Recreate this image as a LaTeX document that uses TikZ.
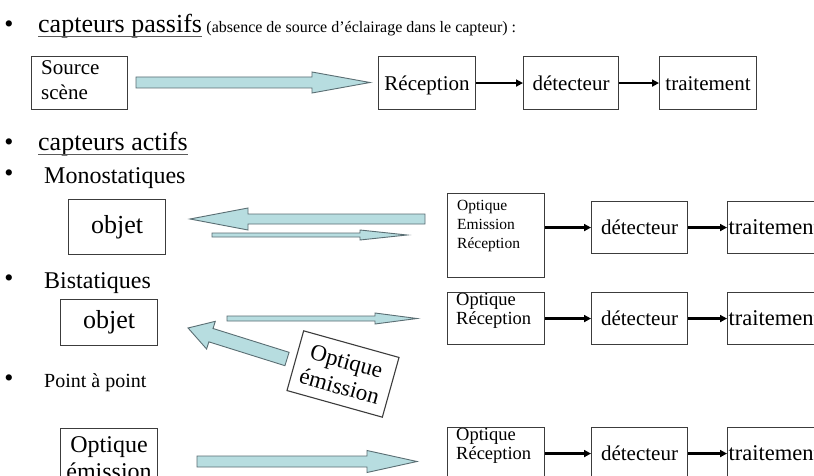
\documentclass[tikz,border=0pt]{standalone}
\usepackage{fontspec}
\setmainfont{Liberation Serif}
\usetikzlibrary{arrows.meta}
\definecolor{boxline}{RGB}{60,60,60}
\definecolor{beamfill}{RGB}{183,221,224}
\definecolor{beamline}{RGB}{90,110,115}
\definecolor{ulgray}{RGB}{90,90,90}

% wide light-blue arrow: tail point, direction angle, length,
% shaft half-width, head half-width, head length
\newcommand\beam[6]{%
  \draw[beam,shift={#1},rotate=#2]
    (0,-#4) -- ({#3-#6},-#4) -- ({#3-#6},-#5) -- (#3,0)
    -- ({#3-#6},#5) -- ({#3-#6},#4) -- (0,#4) -- cycle;}

\tikzset{
  box/.style={draw=boxline, line width=1.1pt, inner sep=0pt, anchor=north west},
  word/.style={font=\fontsize{21}{25}\selectfont, text height=17pt, text depth=3pt},
  beam/.style={draw=beamline, fill=beamfill, line width=0.9pt, line join=miter},
  blk/.style={line width=2.2pt, -{Triangle[length=7pt,width=7pt]}},
  ul/.style={draw=ulgray, line width=1pt},
  bul/.style={inner sep=0pt, font=\fontsize{26}{28}\selectfont},
  fa/.style={font=\fontsize{26}{30}\selectfont},
  fb/.style={font=\fontsize{24}{28}\selectfont},
  fc/.style={font=\fontsize{21}{25}\selectfont},
  fd/.style={font=\fontsize{18.5}{19}\selectfont},
  fe/.style={font=\fontsize{15.5}{19}\selectfont},
  ff/.style={font=\fontsize{16}{19}\selectfont},
  fg/.style={font=\fontsize{20}{24}\selectfont},
  trlabel/.style={anchor=west, font=\fontsize{22.5}{26}\selectfont, inner sep=0pt, xshift=1.5pt},
  toplabel/.style={anchor=north west, align=left, inner sep=0pt},
}

\begin{document}
\begin{tikzpicture}[x=1pt,y=-1pt]
\useasboundingbox (0,0) rectangle (814,476);
\fill[white] (0,0) rectangle (814,476);
\clip (0,0) rectangle (814,476);

% ---------- passive sensors ----------
\node[bul] (b1) at (9,27) {•};
\node[fa, anchor=base west, inner sep=0pt] (t1) at (38,33) {capteurs passifs};
\draw[ul] ([yshift=-4pt]t1.base west) -- ([yshift=-4pt]t1.base east);
\node[ff, anchor=base west, inner sep=0pt] (t1b) at ([xshift=4pt]t1.base east)
  {(absence de source d’éclairage dans le capteur) :};

\node[box, minimum width=96pt, minimum height=53pt,
      label={[toplabel, fc, xshift=10pt, yshift=-4pt]north west:{Source\\scène}}] (src) at (31,56) {};
\node[box, word, minimum width=97pt, minimum height=53pt] (rec) at (378,56) {Réception};
\node[box, word, minimum width=95pt, minimum height=53pt] (det) at (523,56) {détecteur};
\node[box, word, minimum width=97pt, minimum height=53pt] (trt) at (659,56) {traitement};
\beam{(136,82.5)}{0}{234}{5.5}{10.5}{58}
\draw[blk] (rec.east) -- (det.west);
\draw[blk] (det.east) -- (trt.west);

% ---------- active sensors ----------
\node[bul] (b2) at (9,145) {•};
\node[fa, anchor=base west, inner sep=0pt] (t2) at (38,151) {capteurs actifs};
\draw[ul] ([yshift=-4pt]t2.base west) -- ([yshift=-4pt]t2.base east);

% monostatic
\node[bul] (b3) at (9,176) {•};
\node[fb, anchor=base west, inner sep=0pt] (t3) at (44,183) {Monostatiques};
\node[box, fa, minimum width=97pt, minimum height=55pt] (obj1) at (68,199) {objet};
\node[box, minimum width=97pt, minimum height=84pt,
      label={[toplabel, fe, xshift=10pt, yshift=-7pt]north west:{Optique\\Emission\\Réception}}]
      (oer) at (447,193) {};
\node[box, word, minimum width=96pt, minimum height=52pt] (det2) at (591,201) {détecteur};
\node[box, minimum width=100pt, minimum height=52pt,
      label={[trlabel]west:traitement}] (trt2) at (727,201) {};
\beam{(425,219)}{180}{235}{5}{11}{58}
\beam{(212,235)}{0}{195}{2}{5}{47}
\draw[blk] (oer.east |- det2.west) -- (det2.west);
\draw[blk] (det2.east) -- (trt2.west);

% bistatic
\node[bul] (b4) at (9,281) {•};
\node[fb, anchor=base west, inner sep=0pt] (t4) at (44,288) {Bistatiques};
\node[box, fa, minimum width=97pt, minimum height=46pt] (obj2) at (60,299) {objet};
\node[box, minimum width=97pt, minimum height=52pt,
      label={[toplabel, fd, xshift=9pt, yshift=-1pt]north west:{Optique\\Réception}}]
      (or3) at (447,292) {};
\node[box, word, minimum width=96pt, minimum height=52pt] (det3) at (591,292) {détecteur};
\node[box, minimum width=100pt, minimum height=52pt,
      label={[trlabel]west:traitement}] (trt3) at (727,292) {};
\beam{(227,318.5)}{0}{190}{2.5}{5.5}{42}
\beam{(287,359)}{162.6}{103.7}{7}{14.5}{24}
\node[box, anchor=center, rotate=-15.6, minimum width=99pt, minimum height=62pt,
      align=center, font=\fontsize{23}{26}\selectfont] (oe) at (343,374) {Optique\\émission};
\draw[blk] (or3.east |- det3.west) -- (det3.west);
\draw[blk] (det3.east) -- (trt3.west);

% point to point
\node[bul] (b5) at (9,381) {•};
\node[fg, anchor=base west, inner sep=0pt] (t5) at (44,387) {Point à point};
\node[box, minimum width=97pt, minimum height=60pt, align=center,
      font=\fontsize{24}{27}\selectfont] (oe2) at (60,428) {Optique\\émission};
\node[box, minimum width=97pt, minimum height=52pt,
      label={[toplabel, fd, xshift=9pt, yshift=-1pt]north west:{Optique\\Réception}}]
      (or4) at (447,427) {};
\node[box, word, minimum width=96pt, minimum height=52pt] (det4) at (591,427) {détecteur};
\node[box, minimum width=100pt, minimum height=52pt,
      label={[trlabel]west:traitement}] (trt4) at (727,427) {};
\beam{(197,461.5)}{0}{220}{5.5}{11}{50}
\draw[blk] (or4.east |- det4.west) -- (det4.west);
\draw[blk] (det4.east) -- (trt4.west);
\end{tikzpicture}
\end{document}
